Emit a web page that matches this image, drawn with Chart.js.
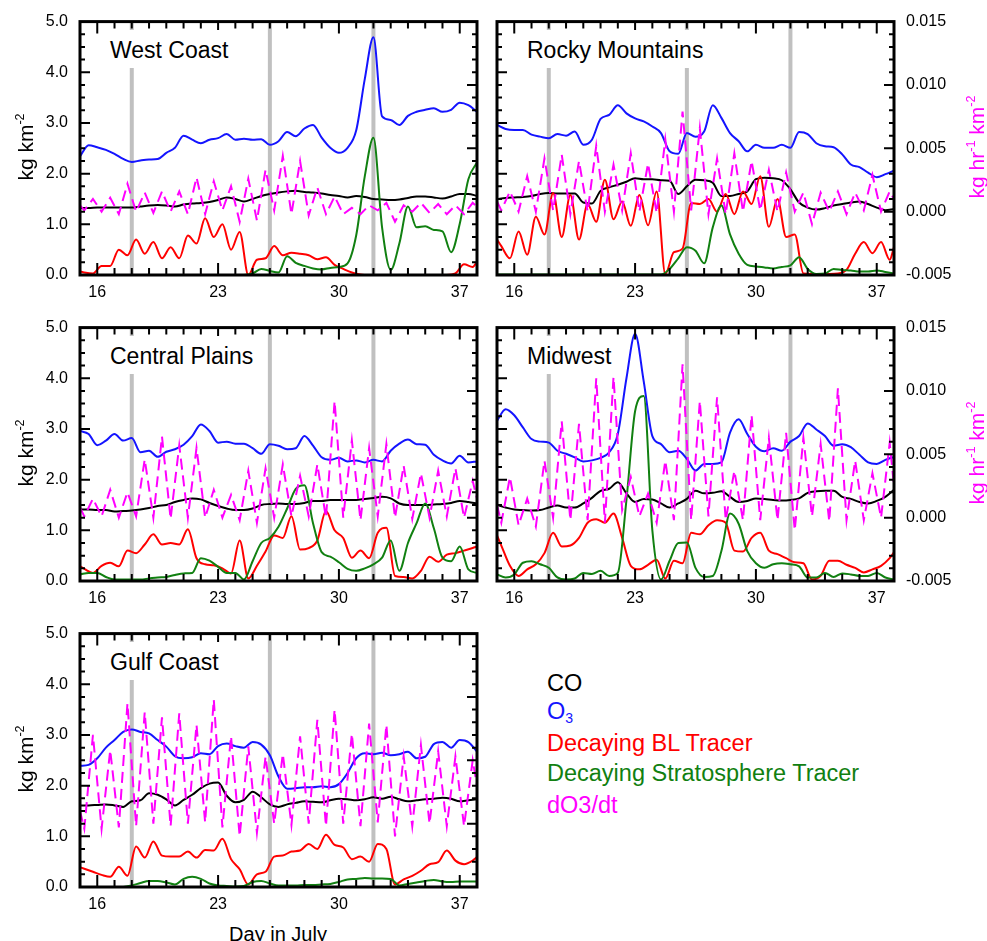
<!DOCTYPE html>
<html>
<head>
<meta charset="utf-8">
<script src="https://cdn.jsdelivr.net/npm/chart.js@4.4.1/dist/chart.umd.min.js"></script>
<style>
  body { margin: 0; background: #fff; font-family: "Liberation Sans", Arial, Helvetica, sans-serif; }
  #page { position: relative; width: 987px; height: 941px; overflow: hidden; }
  canvas { position: absolute; }
  .lbl { position: absolute; white-space: nowrap; line-height: 1; color: #000; }
  .title { font-size: 23px; line-height: 23px; background: #fff; padding: 9px 6px 6px 6px; }
  .ytitle { font-size: 21px; transform: translate(-50%, -50%) rotate(-90deg); }
  .rtitle { color: #ff00ff; }
  .leg { font-size: 23.5px; left: 547px; }
  .xtitle { font-size: 20px; transform: translateX(-50%); }
  sup { font-size: 0.6em; vertical-align: 0.7em; line-height: 0; }
  sub { font-size: 0.6em; vertical-align: -0.3em; line-height: 0; }
</style>
</head>
<body>
<div id="page">
  <canvas id="west" width="487" height="306" style="left:0;top:0"></canvas>
  <canvas id="rocky" width="500" height="306" style="left:487px;top:0"></canvas>
  <canvas id="plains" width="487" height="306" style="left:0;top:306px"></canvas>
  <canvas id="midwest" width="500" height="306" style="left:487px;top:306px"></canvas>
  <canvas id="gulf" width="487" height="306" style="left:0;top:612px"></canvas>

  <div class="lbl title" style="left:104px;top:30px">West Coast</div>
  <div class="lbl title" style="left:521px;top:30px">Rocky Mountains</div>
  <div class="lbl title" style="left:104px;top:336px">Central Plains</div>
  <div class="lbl title" style="left:521px;top:336px">Midwest</div>
  <div class="lbl title" style="left:104px;top:642px">Gulf Coast</div>

  <div class="lbl ytitle" style="left:25px;top:147px">kg km<sup>-2</sup></div>
  <div class="lbl ytitle" style="left:25px;top:453px">kg km<sup>-2</sup></div>
  <div class="lbl ytitle" style="left:25px;top:759px">kg km<sup>-2</sup></div>
  <div class="lbl ytitle rtitle" style="left:976px;top:147px">kg hr<sup>-1</sup> km<sup>-2</sup></div>
  <div class="lbl ytitle rtitle" style="left:976px;top:453px">kg hr<sup>-1</sup> km<sup>-2</sup></div>

  <div class="lbl xtitle" style="left:278px;top:924px">Day in July</div>

  <div class="lbl leg" style="top:672px">CO</div>
  <div class="lbl leg" style="top:700px;color:#1414ff">O<sub>3</sub></div>
  <div class="lbl leg" style="top:732px;color:#ff0000">Decaying BL Tracer</div>
  <div class="lbl leg" style="top:762px;color:#118011">Decaying Stratosphere Tracer</div>
  <div class="lbl leg" style="top:794px;color:#ff00ff">dO3/dt</div>
</div>
<script>
// eje x: días de julio
const halfDays = [15,15.5,16,16.5,17,17.5,18,18.5,19,19.5,20,20.5,21,21.5,22,22.5,23,23.5,24,24.5,25,25.5,26,
  26.5,27,27.5,28,28.5,29,29.5,30,30.5,31,31.5,32,32.5,33,33.5,34,34.5,35,35.5,36,36.5,37,37.5,38];
const dielDays = [15,15.25,15.75,16.25,16.75,17.25,17.75,18.25,18.75,19.25,19.75,20.25,20.75,21.25,21.75,22.25,22.75,
  23.25,23.75,24.25,24.75,25.25,25.75,26.25,26.75,27.25,27.75,28.25,28.75,29.25,29.75,30.25,30.75,31.25,31.75,
  32.25,32.75,33.25,33.75,34.25,34.75,35.25,35.75,36.25,36.75,37.25,37.75,38];
const xTicks = [16, 23, 30, 37];
const massTicks = [0, 1, 2, 3, 4, 5];
const rateTicks = [-0.005, 0, 0.005, 0.010, 0.015];
const eventDays = [18, 26, 32];

// West Coast
const westCO = [1.32,1.32,1.33,1.33,1.33,1.33,1.33,1.35,1.37,1.38,1.37,1.35,1.39,1.41,1.42,1.44,1.48,1.53,1.50,1.45,1.50,1.56,1.60,
  1.63,1.65,1.66,1.64,1.63,1.61,1.58,1.56,1.53,1.56,1.54,1.50,1.49,1.48,1.49,1.52,1.55,1.55,1.53,1.51,1.55,1.60,1.60,1.56];
const westO3 = [2.34,2.56,2.52,2.47,2.39,2.29,2.23,2.26,2.28,2.29,2.41,2.51,2.75,2.67,2.60,2.67,2.70,2.78,2.67,2.69,2.67,2.68,2.57,
  2.64,2.82,2.74,2.89,2.96,2.71,2.51,2.41,2.51,2.85,3.87,4.69,3.13,3.06,2.96,3.14,3.22,3.26,3.29,3.22,3.26,3.40,3.35,3.22];
const westStrat = [0,0,0,0,0,0,0,0,0,0,0,0,0,0,0,0,0,0,0,0,0.03,0.12,0.08,
  0.05,0.37,0.24,0.18,0.13,0.11,0.14,0.16,0.23,0.78,1.95,2.71,0.94,0.10,0.62,1.35,0.94,0.96,0.89,0.86,0.45,1.01,1.89,2.22];
const westBL = [0.07,0.05,0.03,0.18,0.18,0.50,0.39,0.70,0.42,0.65,0.33,0.55,0.33,0.78,0.62,1.12,0.75,1.00,0.50,0.85,0.00,0.30,0.33,0.57,
  0.39,0.44,0.42,0.39,0.31,0.35,0.20,0.12,0.05,0.01,0,0,0,0,0,0,0,0,0,0,0.03,0.21,0.16,0.26];
const westRate = [0.0005,0.0001,0.0010,0.0000,0.0011,-0.0002,0.0022,0.0000,0.0015,-0.0001,0.0016,0.0000,0.0016,-0.0002,0.0027,
  -0.0002,0.0024,0.0001,0.0020,-0.0008,0.0026,-0.0007,0.0033,0.0001,0.0044,-0.0002,0.0040,-0.0003,0.0019,-0.0002,0.0012,
  -0.0002,0.0003,-0.0002,0.0005,0.0001,0.0007,-0.0008,0.0005,0.0000,0.0007,-0.0001,0.0006,-0.0002,0.0005,-0.0002,0.0007,0.0004];

// Rocky Mountains
const rockyCO = [1.50,1.52,1.53,1.54,1.56,1.60,1.62,1.61,1.61,1.61,1.43,1.41,1.66,1.73,1.78,1.84,1.91,1.89,1.89,1.87,1.86,1.60,1.75,
  1.88,1.87,1.82,1.56,1.56,1.60,1.65,1.89,1.92,1.91,1.87,1.69,1.43,1.33,1.29,1.32,1.37,1.40,1.43,1.45,1.40,1.33,1.28,1.30];
const rockyO3 = [2.96,2.88,2.86,2.86,2.77,2.73,2.70,2.78,2.75,2.83,2.57,2.67,3.08,3.16,3.35,3.19,3.09,3.03,2.93,2.80,2.44,2.39,2.80,
  2.73,2.83,3.35,3.10,2.80,2.64,2.44,2.57,2.51,2.51,2.57,2.51,2.82,2.78,2.60,2.54,2.52,2.38,2.18,2.13,2.02,1.93,1.99,2.06];
const rockyStrat = [0.01,0.01,0.01,0.01,0.01,0.01,0.01,0.01,0.01,0.01,0.01,0.01,0.01,0.01,0.01,0.01,0.01,0.01,0.01,0.01,0.12,0.33,0.55,
  0.48,0.23,0.94,1.37,0.80,0.42,0.20,0.17,0.15,0.13,0.16,0.19,0.35,0.12,0.02,0.03,0.12,0.10,0.09,0.07,0.07,0.09,0.06,0.03];
const rockyBL = [0.70,0.57,0.33,0.86,0.40,1.15,0.80,1.62,0.75,1.58,0.70,1.40,1.05,1.88,1.10,1.45,0.97,1.58,0.98,1.65,0.02,0.45,0.52,1.42,
  1.40,1.50,1.25,1.60,1.20,1.65,1.40,1.95,0.95,1.50,0.75,0.80,0.03,0.02,0.02,0.02,0.03,0.10,0.42,0.65,0.43,0.65,0.30,0.55];
const rockyRate = [0.0008,0.0001,0.0016,0.0000,0.0028,0.0000,0.0042,0.0001,0.0045,-0.0002,0.0040,0.0000,0.0052,0.0000,0.0037,
  0.0001,0.0046,0.0000,0.0038,-0.0001,0.0057,0.0000,0.0079,0.0001,0.0066,-0.0002,0.0042,-0.0002,0.0046,0.0000,0.0040,
  0.0001,0.0033,0.0000,0.0031,0.0000,0.0015,-0.0010,0.0015,0.0000,0.0016,-0.0002,0.0015,0.0001,0.0029,0.0000,0.0016,0.0010];

// Central Plains
const plainsCO = [1.41,1.41,1.40,1.40,1.37,1.38,1.39,1.41,1.44,1.48,1.50,1.56,1.60,1.63,1.61,1.54,1.48,1.43,1.40,1.40,1.43,1.50,1.52,
  1.53,1.52,1.52,1.54,1.58,1.58,1.60,1.60,1.60,1.60,1.62,1.64,1.66,1.63,1.53,1.50,1.50,1.50,1.51,1.52,1.54,1.58,1.56,1.53];
const plainsO3 = [2.96,2.90,2.68,2.77,2.90,2.77,2.82,2.54,2.57,2.45,2.55,2.60,2.69,2.86,3.09,2.96,2.73,2.75,2.71,2.71,2.62,2.51,2.70,
  2.67,2.60,2.62,2.86,2.67,2.44,2.39,2.43,2.36,2.38,2.34,2.39,2.36,2.57,2.71,2.79,2.70,2.69,2.49,2.38,2.32,2.47,2.34,2.36];
const plainsStrat = [0.13,0.16,0.16,0.08,0.03,0.03,0.03,0.03,0.05,0.07,0.08,0.12,0.15,0.16,0.45,0.40,0.28,0.16,0.16,0.03,0.39,0.75,0.85,
  1.07,1.43,1.82,1.89,1.14,0.57,0.48,0.37,0.24,0.20,0.25,0.33,0.46,0.80,0.20,0.75,1.14,1.53,1.04,0.46,0.39,0.68,0.23,0.16];
const plainsBL = [0.29,0.24,0.16,0.30,0.36,0.29,0.60,0.55,0.72,0.92,0.72,0.75,0.72,1.02,0.45,0.33,0.31,0.25,0.15,0.80,0.05,0.30,0.58,0.90,
  0.85,1.28,0.62,0.65,0.80,1.38,1.00,0.85,0.46,0.60,0.45,0.95,1.05,0.10,0.08,0.05,0.20,0.48,0.38,0.52,0.55,0.60,0.65,0.68];
const plainsRate = [0.0008,0.0001,0.0015,0.0001,0.0022,0.0000,0.0020,0.0001,0.0046,0.0000,0.0064,-0.0001,0.0057,0.0000,0.0055,
  0.0000,0.0022,0.0000,0.0018,-0.0002,0.0037,-0.0004,0.0039,0.0000,0.0042,0.0001,0.0033,0.0001,0.0042,0.0000,0.0092,
  0.0000,0.0061,-0.0002,0.0055,0.0001,0.0058,0.0000,0.0041,-0.0001,0.0035,0.0000,0.0037,0.0001,0.0039,0.0000,0.0029,0.0015];

// Midwest
const midwestCO = [1.50,1.45,1.41,1.40,1.39,1.40,1.45,1.49,1.45,1.45,1.53,1.64,1.78,1.82,1.95,1.73,1.56,1.62,1.61,1.53,1.45,1.53,1.62,
  1.78,1.73,1.74,1.77,1.66,1.56,1.58,1.63,1.62,1.60,1.59,1.60,1.63,1.74,1.77,1.78,1.78,1.66,1.62,1.56,1.53,1.58,1.66,1.80];
const midwestO3 = [3.16,3.39,3.27,3.03,2.80,2.75,2.73,2.57,2.51,2.44,2.36,2.38,2.43,2.54,2.90,4.00,4.88,3.94,2.86,2.70,2.54,2.57,2.41,
  2.18,2.31,2.31,2.34,2.93,3.19,2.90,2.65,2.56,2.62,2.57,2.75,2.86,3.11,2.99,2.86,2.67,2.70,2.64,2.49,2.34,2.31,2.39,2.45];
const midwestStrat = [0.13,0.07,0.13,0.36,0.39,0.33,0.26,0.07,0.03,0.05,0.16,0.14,0.20,0.10,0.16,1.60,3.35,3.65,1.00,0.03,0.40,0.75,0.76,
  0.26,0.08,0.10,0.59,1.33,1.13,0.59,0.35,0.26,0.33,0.35,0.33,0.29,0.07,0.07,0.16,0.08,0.15,0.13,0.10,0.10,0.16,0.07,0.03];
const midwestBL = [0.90,0.70,0.30,0.10,0.23,0.33,0.55,0.95,0.68,0.70,0.85,1.15,1.22,1.15,1.33,0.85,0.30,0.23,0.32,0.42,0.05,0.40,0.35,0.95,
  0.92,1.10,1.20,1.15,0.60,0.58,0.85,0.95,0.60,0.53,0.45,0.37,0.35,0.03,0.10,0.40,0.40,0.32,0.26,0.17,0.23,0.30,0.45,0.57];
const midwestRate = [0.0010,-0.0004,0.0032,-0.0006,0.0015,-0.0007,0.0045,0.0000,0.0076,-0.0002,0.0074,-0.0002,0.0110,-0.0004,0.0111,
  0.0006,0.0032,0.0001,0.0019,-0.0004,0.0045,-0.0002,0.0121,-0.0002,0.0092,0.0001,0.0095,-0.0002,0.0037,-0.0002,0.0081,
  -0.0002,0.0063,-0.0002,0.0067,-0.0010,0.0063,0.0001,0.0058,-0.0003,0.0102,-0.0002,0.0045,-0.0002,0.0035,0.0000,0.0059,0.0025];

// Gulf Coast
const gulfCO = [1.61,1.61,1.62,1.63,1.61,1.58,1.69,1.71,1.85,1.82,1.73,1.61,1.72,1.82,1.95,2.04,2.06,1.80,1.67,1.72,1.88,1.77,1.63,
  1.58,1.63,1.66,1.69,1.68,1.67,1.71,1.74,1.73,1.71,1.73,1.77,1.74,1.78,1.73,1.69,1.71,1.73,1.74,1.76,1.74,1.69,1.71,1.73];
const gulfO3 = [2.39,2.41,2.54,2.75,2.90,3.06,3.11,3.06,3.03,2.90,2.77,2.58,2.54,2.56,2.64,2.62,2.78,2.83,2.78,2.75,2.86,2.81,2.60,
  2.18,1.94,1.95,1.97,1.97,1.99,1.97,2.03,2.25,2.54,2.64,2.62,2.65,2.60,2.62,2.67,2.54,2.57,2.82,2.86,2.75,2.90,2.86,2.67];
const gulfStrat = [0,0,0,0,0,0,0.03,0.08,0.12,0.12,0.09,0.05,0.16,0.20,0.16,0.07,0.03,0.02,0.01,0.02,0.10,0.12,0.07,
  0.03,0.03,0.03,0.04,0.04,0.05,0.06,0.10,0.15,0.16,0.18,0.17,0.17,0.16,0.03,0.06,0.09,0.12,0.14,0.11,0.10,0.11,0.11,0.11];
const gulfBL = [0.39,0.36,0.30,0.24,0.20,0.40,0.22,0.80,0.58,0.90,0.62,0.60,0.60,0.70,0.58,0.73,0.72,0.95,0.55,0.35,0.05,0.25,0.30,0.60,
  0.62,0.70,0.72,0.85,0.75,1.03,0.83,0.78,0.55,0.60,0.50,0.85,0.75,0.05,0.15,0.22,0.32,0.45,0.49,0.72,0.52,0.45,0.52,0.59];
const gulfRate = [0.0010,-0.0004,0.0070,-0.0004,0.0058,-0.0003,0.0095,-0.0002,0.0088,0.0000,0.0084,-0.0002,0.0087,0.0000,0.0078,
  0.0001,0.0098,-0.0003,0.0069,-0.0010,0.0061,-0.0007,0.0053,0.0000,0.0055,-0.0001,0.0069,0.0000,0.0082,-0.0002,0.0090,
  0.0000,0.0071,-0.0002,0.0079,0.0001,0.0078,-0.0010,0.0053,-0.0002,0.0062,0.0000,0.0057,-0.0002,0.0053,-0.0002,0.0050,0.0030];

const FONT = { family: '"Liberation Sans", Arial, Helvetica, sans-serif', size: 16 };
const pts = (xs, ys) => xs.map((x, i) => ({ x: x, y: ys[i] }));

// barras grises, marcas hacia dentro y marco
const decor = {
  id: 'decor',
  beforeDatasetsDraw(chart) {
    const { ctx, chartArea: a, scales } = chart;
    ctx.save();
    ctx.strokeStyle = '#c0c0c0';
    ctx.lineWidth = 4;
    eventDays.forEach(d => {
      const px = scales.x.getPixelForValue(d);
      ctx.beginPath();
      ctx.moveTo(px, a.top);
      ctx.lineTo(px, a.bottom);
      ctx.stroke();
    });
    ctx.restore();
  },
  afterDraw(chart) {
    const { ctx, chartArea: a, scales } = chart;
    ctx.save();
    ctx.strokeStyle = '#000';
    ctx.lineWidth = 2;
    ctx.beginPath();
    for (let d = 16; d <= 37; d++) {
      const px = scales.x.getPixelForValue(d);
      const len = xTicks.includes(d) ? 12 : 7;
      ctx.moveTo(px, a.bottom); ctx.lineTo(px, a.bottom - len);
      ctx.moveTo(px, a.top); ctx.lineTo(px, a.top + len);
    }
    for (let k = 1; k < 20; k++) {
      const py = scales.y.getPixelForValue(k * 0.25);
      const len = k % 4 === 0 ? 10 : 5;
      ctx.moveTo(a.left, py); ctx.lineTo(a.left + len, py);
    }
    for (let k = -4; k < 15; k++) {
      const py = scales.y2.getPixelForValue(k / 1000);
      const len = k % 5 === 0 ? 10 : 5;
      ctx.moveTo(a.right, py); ctx.lineTo(a.right - len, py);
    }
    ctx.stroke();
    ctx.lineWidth = 3;
    ctx.strokeRect(a.left, a.top, a.right - a.left, a.bottom - a.top);
    ctx.restore();
  }
};

function makePanel(id, side, co, o3, bl, strat, rate) {
  const left = side === 'left';
  const line = (data, color, order) => ({
    data: data, borderColor: color, borderWidth: 2, pointRadius: 0,
    cubicInterpolationMode: 'monotone', order: order, yAxisID: 'y'
  });
  new Chart(document.getElementById(id), {
    type: 'line',
    data: {
      datasets: [
        line(pts(halfDays, co), '#000000', 4),
        line(pts(halfDays, o3), '#1414ff', 3),
        line(pts(dielDays, bl), '#ff0000', 2),
        line(pts(halfDays, strat), '#118011', 1),
        { data: pts(dielDays, rate), borderColor: '#ff00ff', borderWidth: 2, borderDash: [11, 6],
          pointRadius: 0, tension: 0, order: 0, yAxisID: 'y2' }
      ]
    },
    options: {
      responsive: false,
      animation: false,
      devicePixelRatio: 1,
      layout: { padding: { top: 19, left: left ? 0 : 10, right: left ? 10 : 0, bottom: 0 } },
      plugins: { legend: { display: false }, tooltip: { enabled: false } },
      scales: {
        x: {
          type: 'linear', min: 15, max: 38,
          grid: { display: false, drawTicks: false }, border: { display: false },
          afterBuildTicks: s => { s.ticks = xTicks.map(v => ({ value: v })); },
          afterFit: s => { s.height = 31; },
          ticks: { padding: 8, color: '#000', font: FONT, maxRotation: 0, autoSkip: false }
        },
        y: {
          min: 0, max: 5, position: 'left', display: left,
          grid: { display: false, drawTicks: false }, border: { display: false },
          afterBuildTicks: s => { s.ticks = massTicks.map(v => ({ value: v })); },
          afterFit: s => { s.width = left ? 80 : 0; },
          ticks: { padding: 12, color: '#000', font: FONT, callback: v => v.toFixed(1) }
        },
        y2: {
          min: -0.005, max: 0.015, position: 'right', display: !left,
          grid: { display: false, drawTicks: false }, border: { display: false },
          afterBuildTicks: s => { s.ticks = rateTicks.map(v => ({ value: v })); },
          afterFit: s => { s.width = left ? 0 : 93; },
          ticks: { padding: 12, color: '#000', font: FONT, callback: v => v.toFixed(3) }
        }
      }
    },
    plugins: [decor]
  });
}

makePanel('west', 'left', westCO, westO3, westBL, westStrat, westRate);
makePanel('rocky', 'right', rockyCO, rockyO3, rockyBL, rockyStrat, rockyRate);
makePanel('plains', 'left', plainsCO, plainsO3, plainsBL, plainsStrat, plainsRate);
makePanel('midwest', 'right', midwestCO, midwestO3, midwestBL, midwestStrat, midwestRate);
makePanel('gulf', 'left', gulfCO, gulfO3, gulfBL, gulfStrat, gulfRate);
</script>
</body>
</html>
